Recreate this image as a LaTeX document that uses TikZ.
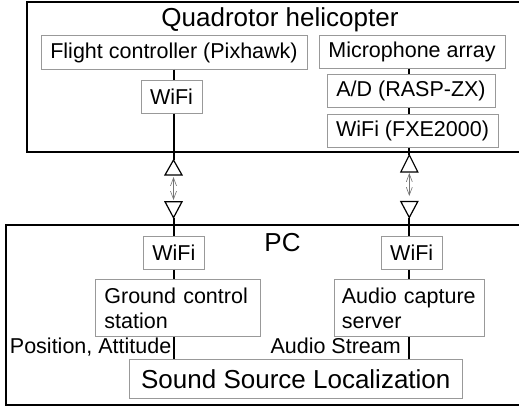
\documentclass[tikz,border=0pt]{standalone}
\usepackage{fontspec}
\setmainfont{Liberation Sans}
\usetikzlibrary{positioning}
\usetikzlibrary{arrows.meta}

\tikzset{
	unit/.style={draw=black!40, line width=1pt, inner sep=0pt, font=\fontsize{21.5}{25}\selectfont},
	tag/.style={inner sep=0pt, font=\fontsize{21.5}{25}\selectfont},
	big/.style={inner sep=0pt, font=\fontsize{26}{30}\selectfont},
	frame/.style={line width=2pt},
	link/.style={line width=2pt},
	antenna/.style={draw, line width=1.2pt, fill=white},
	radio/.style={black!55, line width=0.6pt, {Straight Barb[length=8pt,width=6pt]}-{Straight Barb[length=8pt,width=6pt]}},
}

\begin{document}
\begin{tikzpicture}[x=1pt,y=-1pt]

	\def\ah{8.5};
	\useasboundingbox (0,0) rectangle (519,412);

	% outer frames
	\draw[frame] (27,2) rectangle (540,152);
	\draw[frame] (6,225) rectangle (540,405);

	\coordinate (colA) at (173.5,0);
	\coordinate (colB) at (409.3,0);

	% quadrotor side
	\node[big, anchor=base] (quad) at (280,26.7) {Quadrotor helicopter};
	\node[unit, minimum width=266, minimum height=33] (fc) at (174,52.5) {Flight controller (Pixhawk)};
	\node[unit, minimum width=186, minimum height=32] (mic) at (412,52) {Microphone array};
	\node[unit, minimum width=61, minimum height=33] (wifiA) at (171.5,96.5) {WiFi};
	\node[unit, minimum width=168, minimum height=33] (ad) at (411,91) {A/D (RASP-ZX)};
	\node[unit, minimum width=171, minimum height=33] (wifiB) at (412.5,130.5) {WiFi (FXE2000)};

	% PC side
	\node[big, anchor=base] (pc) at (282.5,251.7) {PC};
	\node[unit, minimum width=61, minimum height=32.6] (wifiC) at (173.8,253) {WiFi};
	\node[unit, minimum width=61, minimum height=32.6] (wifiD) at (411.7,253) {WiFi};
	\node[unit, minimum width=165, minimum height=57.4, inner xsep=8.6, text width=147.8, align=left] (gcs) at (178.3,308) {Ground control\\station};
	\node[unit, minimum width=150, minimum height=57.4, inner xsep=7.5, text width=135, align=left] (acs) at (409.3,308) {Audio capture\\server};
	\node[unit, big, draw=black!40, line width=1pt, minimum width=333, minimum height=39] (ssl) at (295.8,378.8) {Sound Source Localization};

	\node[tag, anchor=base east] (posatt) at (171.5,353) {Position, Attitude};
	\node[tag, anchor=base east] (stream) at (401,353) {Audio Stream};

	% antennas
	\coordinate (tipA) at (173.5,160);
	\coordinate (tipB) at (409.3,155);
	\coordinate (tipC) at (173.5,217.7);
	\coordinate (tipD) at (409.3,217.5);
	\coordinate (raA1) at (173.5,177);
	\coordinate (raA2) at (173.5,200);
	\coordinate (raB1) at (409.3,173);
	\coordinate (raB2) at (409.3,196);

	% wiring
	\foreach \a/\b/\c in {fc/wifiA/colA, wifiC/gcs/colA, gcs/ssl/colA, mic/ad/colB, ad/wifiB/colB, wifiD/acs/colB, acs/ssl/colB} {
		\draw[link] (\a.south -| \c) -- (\b.north -| \c);
	}
	\draw[link] (wifiA.south -| colA) -- (tipA);
	\draw[link] (wifiB.south -| colB) -- (tipB);
	\draw[link] (tipC) -- (wifiC.north -| colA);
	\draw[link] (tipD) -- (wifiD.north -| colB);

	\draw[antenna] (tipA) -- ++(-\ah,15) -- ++(2*\ah,0) -- cycle;
	\draw[antenna] (tipB) -- ++(-\ah,17) -- ++(2*\ah,0) -- cycle;
	\draw[antenna] (tipC) -- ++(-\ah,-16) -- ++(2*\ah,0) -- cycle;
	\draw[antenna] (tipD) -- ++(-\ah,-16) -- ++(2*\ah,0) -- cycle;

	\draw[radio] (raA1) -- (raA2);
	\draw[radio] (raB1) -- (raB2);

\end{tikzpicture}
\end{document}
